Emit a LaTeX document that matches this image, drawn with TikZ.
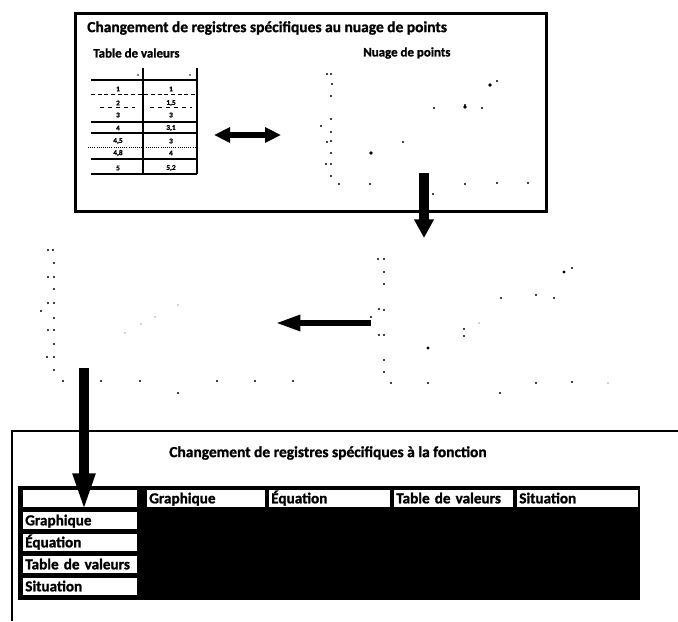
\documentclass[tikz,border=0pt]{standalone}
\usepackage{fontspec}
\setmainfont{Carlito}[BoldFeatures={FakeBold=1.2}]
\usetikzlibrary{arrows.meta}
\begin{document}
\begin{tikzpicture}[x=0.75pt,y=-0.75pt,
  frame/.style={draw=black,line width=2.2pt},
  ttl/.style={font=\bfseries\fontsize{11.6}{13}\selectfont,inner sep=0pt},
  sub/.style={font=\bfseries\fontsize{9.7}{11}\selectfont,inner sep=0pt},
  num/.style={font=\bfseries\fontsize{5.5}{6}\selectfont,inner sep=0pt},
  cell/.style={fill=white,inner xsep=1.5pt,inner ysep=0.2pt,anchor=north west,align=left,
    font=\bfseries\fontsize{11.4}{12}\selectfont,text height=9.6pt,text depth=2.6pt},
  bigarrow/.style={line width=7.5pt},
  dotc/.style={fill=black},
  faint/.style={fill=black!35}
]
\useasboundingbox (0,0) rectangle (678,621);

% ---------- top box ----------
\node[frame,minimum width=353pt,minimum height=148.5pt,anchor=north west,inner sep=0pt] (topbox) at (74,12) {};
\node[ttl,anchor=west] (toptitle) at (87,28) {Changement de registres spécifiques au nuage de points};
\node[sub,anchor=west] (tabtitle) at (93,53) {Table de valeurs};
\node[sub,anchor=west] (nuagetitle) at (363,53) {Nuage de points};

% small table
\draw[line width=1.1pt] (143,68) -- (143,174);
\draw[line width=1.5pt] (197,68) -- (197,174);
\draw[line width=1.1pt] (91,80) -- (197,80);
\draw[line width=0.6pt,densely dashed] (91,94) -- (197,94);
\draw[line width=0.6pt,dashed] (100,107) -- (135,107) (150,107) -- (192,107);
\draw[line width=0.8pt] (91,122) -- (197,122);
\draw[line width=0.8pt] (91,133) -- (197,133);
\draw[line width=0.6pt,densely dotted] (88,147) -- (197,147);
\draw[line width=0.8pt] (91,159) -- (197,159);
\draw[line width=1.5pt] (91,174) -- (197,174);
\fill (138,75) circle[radius=0.7pt];
\fill (190,75) circle[radius=0.7pt];
\foreach \yy/\a/\b [count=\i] in {89/1/1,103/2/{1,5},115/3/3,128/4/{3,1},141/{4,5}/3,153/{4,8}/4,168/5/{5,2}}{
  \node[num] (tl\i) at (118,\yy) {\a};
  \node[num] (tr\i) at (171,\yy) {\b};
}

% double arrow
\coordinate (dA) at (214,135);
\coordinate (dB) at (281,135);
\draw[line width=5.2pt,{Triangle[width=11pt,length=12pt]}-{Triangle[width=11pt,length=12pt]}] (dA) -- (dB);

% top scatter
\foreach \p in {(327,74),(331,74),(332,84),(331,96),(331,119),(321,126),(331,132),(331,141),(327,142),(331,153),(326,164),(331,164),(331,176),(339,184),(370,184),(465,184),(497,183),(528,183),(403,142),(434,108),(465,105),(482,108),(497,81),(433,194)}
  \fill[dotc] \p circle[radius=0.9pt];
\foreach \p in {(371,153),(490,85),(465,107)}
  \fill[dotc] \p circle[radius=1.4pt];

% arrow 1 (down)
\coordinate (a1s) at (424,173);
\coordinate (a1e) at (424,238);
\draw[bigarrow,-{Triangle[width=14pt,length=14pt]}] (a1s) -- (a1e);

% ---------- middle scatters ----------
\foreach \p in {(378,259),(384,259),(384,272),(384,284),(379,309),(384,310),(371,317),(379,335),(384,335),(384,360),(384,372),(391,383),(428,383),(500,393),(536,383),(572,382),(464,336),(464,329),(501,298),(536,295),(554,298),(572,268)}
  \fill[dotc] \p circle[radius=0.9pt];
\foreach \p in {(428,348),(564,272)}
  \fill[dotc] \p circle[radius=1.3pt];
\foreach \p in {(608,383),(479,323)}
  \fill[faint] \p circle[radius=0.7pt];

\foreach \p in {(48,250),(53,250),(54,263),(48,277),(54,277),(54,289),(48,303),(54,303),(41,311),(54,318),(48,330),(54,330),(54,344),(47,357),(54,357),(54,370),(63,381),(101,381),(140,381),(217,381),(255,381),(293,381),(178,393)}
  \fill[dotc] \p circle[radius=0.9pt];
\foreach \p in {(125,333),(141,324),(155,317),(178,305)}
  \fill[faint] \p circle[radius=0.6pt];

% left arrow
\coordinate (a2s) at (371,323);
\coordinate (a2e) at (275,323);
\draw[line width=5.2pt,-{Triangle[width=11pt,length=19pt]}] (a2s) -- (a2e);

% ---------- bottom box ----------
\coordinate (bbTL) at (12,431);
\coordinate (bbTR) at (678,431);
\coordinate (bbBL) at (12,621);
\draw[line width=1.4pt] (bbTR) -- (bbTL) -- (bbBL);
\node[ttl] (bottitle) at (328,453) {Changement de registres spécifiques à la fonction};

\node[fill=black,minimum width=466.5pt,minimum height=85.5pt,anchor=north west,inner sep=0pt] (bigtab) at (18,486) {};
\node[cell,text width=82.5pt] (h0) at (23,490) {};
\node[cell,text width=85.5pt] (h1) at (147,490) {Graphique};
\node[cell,text width=87.75pt] (h2) at (269,490) {Équation};
\node[cell,text width=86.25pt] (h3) at (394,490) {Table de valeurs};
\node[cell,text width=87.75pt] (h4) at (517,490) {Situation};
\node[cell,text width=82.5pt] (r1) at (23,512) {Graphique};
\node[cell,text width=82.5pt] (r2) at (23,534) {Équation};
\node[cell,text width=82.5pt] (r3) at (23,556) {Table de valeurs};
\node[cell,text width=82.5pt] (r4) at (23,578) {Situation};

% arrow 3 (down into table)
\coordinate (a3s) at (84,368);
\coordinate (a3e) at (84,512);
\draw[bigarrow,-{Triangle[width=15pt,length=29pt]}] (a3s) -- (a3e);
\end{tikzpicture}
\end{document}
